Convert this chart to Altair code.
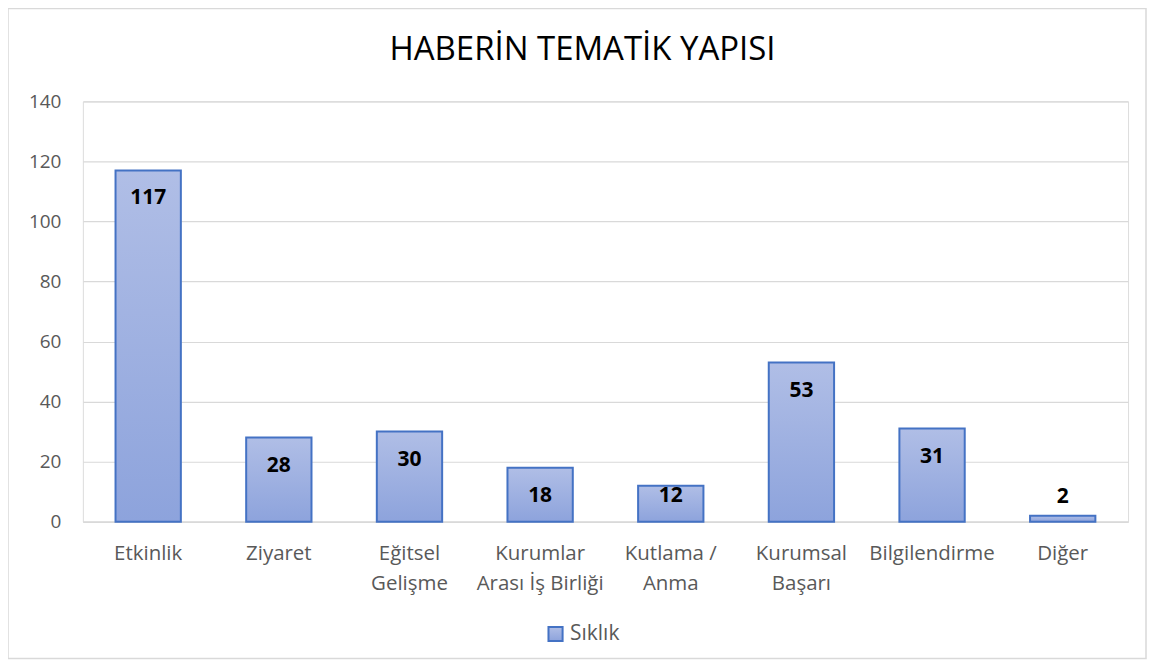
import altair as alt
import pandas as pd

categories = ["Etkinlik", "Ziyaret", "Eğitsel\nGelişme", "Kurumlar\nArası İş Birliği",
              "Kutlama /\nAnma", "Kurumsal\nBaşarı", "Bilgilendirme", "Diğer"]
values = [117, 28, 30, 18, 12, 53, 31, 2]
series = "Sıklık"
title_text = "HABERİN TEMATİK YAPISI"
y_ticks = [0, 20, 40, 60, 80, 100, 120, 140]

df = pd.DataFrame({"cat": categories, "val": values, "series": [series] * len(values)})
one = pd.DataFrame({"t": [title_text]})

W, H = 1047, 421
FONT = "Open Sans"

x = alt.X("cat:N", sort=None, title=None,
          scale=alt.Scale(paddingInner=0.5, paddingOuter=0.25),
          axis=alt.Axis(labelExpr="split(datum.label, '\\n')", labelAngle=0,
                        labelFontSize=20.5, labelColor="#595959", labelFont=FONT,
                        labelPadding=22, labelLineHeight=30, ticks=False,
                        domain=True, domainColor="#d9d9d9", domainWidth=1.5,
                        grid=False))
yscale = alt.Scale(domain=[0, 140], nice=False)
y = alt.Y("val:Q", title=None, scale=yscale,
          axis=alt.Axis(values=y_ticks, labelFontSize=19, labelColor="#595959",
                        labelFont=FONT, labelPadding=22, ticks=False, domain=False,
                        grid=True, gridColor="#d9d9d9", gridWidth=1.2))

gradient = alt.Gradient(gradient="linear",
                        stops=[alt.GradientStop(color="#b0bee6", offset=0),
                               alt.GradientStop(color="#8da3dc", offset=1)],
                        x1=0, x2=0, y1=0, y2=1)

bars = alt.Chart(df).mark_bar(fill=gradient, strokeWidth=2).encode(
    x=x, y=y,
    stroke=alt.Stroke("series:N", scale=alt.Scale(range=["#4472c4"]),
                      legend=alt.Legend(title=None, orient="none", legendX=463, legendY=523,
                                        symbolType="square", symbolSize=200,
                                        symbolFillColor="#a3b3e2", symbolStrokeWidth=2,
                                        labelFontSize=21, labelColor="#595959",
                                        labelFont=FONT, labelOffset=4)),
)

# inside-end labels, kept within the bar for short bars
text_in = alt.Chart(df).transform_filter("datum.val >= 10").transform_calculate(
    ly="max(datum.val, 17.8)"
).mark_text(
    baseline="middle", dy=28, fontSize=21, fontWeight="bold", color="#000000", font=FONT
).encode(x=x, y=alt.Y("ly:Q", scale=yscale), text="val:Q")

text_out = alt.Chart(df).transform_filter("datum.val < 10").mark_text(
    baseline="middle", dy=-19, fontSize=21, fontWeight="bold", color="#000000", font=FONT
).encode(x=x, y=y, text="val:Q")

border = alt.Chart(one).mark_rect(fill=None, stroke="#d9d9d9", strokeWidth=1.5).encode(
    x=alt.value(-75), x2=alt.value(W + 18), y=alt.value(-93), y2=alt.value(H + 137))

title = alt.Chart(one).mark_text(
    fontSize=33, font=FONT, color="#000000", baseline="alphabetic", align="center"
).encode(x=alt.value(W / 2 - 23), y=alt.value(-41), text="t:N")

chart = alt.layer(border, bars, text_in, text_out, title).properties(
    width=W, height=H,
    autosize=alt.AutoSizeParams(type="none"),
    padding={"left": 75, "top": 93, "right": 19, "bottom": 139},
).configure_view(stroke=None).configure(background="#ffffff")

chart.save("out.html", embed_options={"renderer": "svg", "actions": False})
